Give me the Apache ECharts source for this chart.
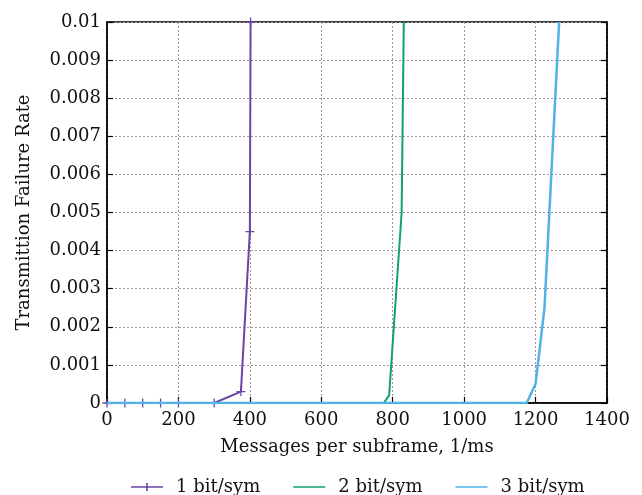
<!DOCTYPE html>
<html><head><meta charset="utf-8">
<script src="https://cdn.jsdelivr.net/npm/echarts@6/dist/echarts.min.js"></script>
<style>html,body{margin:0;padding:0;background:#fff}#c{width:642px;height:495px}</style>
</head><body><div id="c"></div>
<script>
const seriesNames = ['1 bit/sym', '2 bit/sym', '3 bit/sym'];
const x1 = [0, 50, 100, 150, 200, 300, 375, 400, 402];
const y1 = [0, 0, 0, 0, 0, 0, 0.0003, 0.0045, 0.01];
const x2 = [0, 775, 790, 825, 831];
const y2 = [0, 0, 0.0002, 0.005, 0.01];
const x3 = [0, 1175, 1200, 1225, 1266];
const y3 = [0, 0, 0.0005, 0.0025, 0.01];
const colors = ['#6a44a6', '#10a078', '#4fb3e6'];
const FONT = 'DejaVu Serif';
const FS = 18;
const TXT = '#111';

const pair = (xs, ys) => xs.map((x, i) => [x, ys[i]]);
const plus = 'path://M4.3,0H5.7V10H4.3Z M0,4.3H10V5.7H0Z';
const lineIcon = 'path://M0,4.2H32V5.8H0Z';
const plusLineIcon = 'path://M0,4.2H32V5.8H0Z M15.2,1H16.8V9H15.2Z';

const chart = echarts.init(document.getElementById('c'));
const tickStyle = {lineStyle: {color: '#000', width: 1.2}};
chart.setOption({
  animation: false,
  textStyle: {fontFamily: FONT},
  grid: {left: 107, top: 22, right: 35, bottom: 92, show: true, borderColor: '#000', borderWidth: 1.5},
  legend: {
    top: 473, left: 126, itemWidth: 32, itemHeight: 10, itemGap: 33,
    textStyle: {fontFamily: FONT, fontSize: FS, color: TXT, padding: [0, 0, 0, 8]},
    data: [
      {name: seriesNames[0], icon: plusLineIcon},
      {name: seriesNames[1], icon: lineIcon},
      {name: seriesNames[2], icon: lineIcon}
    ]
  },
  xAxis: [{
    type: 'value', min: 0, max: 1400, interval: 200,
    name: 'Messages per subframe, 1/ms', nameLocation: 'middle', nameGap: 35,
    nameTextStyle: {fontFamily: FONT, fontSize: FS, color: TXT},
    axisLine: {show: true, onZero: false, lineStyle: {color: '#000', width: 1.5}},
    axisTick: Object.assign({show: true, inside: true, length: 6}, tickStyle),
    axisLabel: {fontFamily: FONT, fontSize: FS, color: TXT, margin: 8, formatter: v => String(v)},
    splitLine: {show: true, lineStyle: {color: '#999', type: [2, 2], width: 1}}
  }],
  yAxis: [{
    type: 'value', min: 0, max: 0.01, interval: 0.001,
    name: 'Transmittion Failure Rate', nameLocation: 'middle', nameGap: 74,
    nameTextStyle: {fontFamily: FONT, fontSize: FS, color: TXT},
    axisLine: {show: true, lineStyle: {color: '#000', width: 1.5}},
    axisTick: Object.assign({show: true, inside: true, length: 6}, tickStyle),
    axisLabel: {fontFamily: FONT, fontSize: FS, color: TXT, margin: 6,
      formatter: v => v === 0 ? '0' : String(+v.toFixed(3))},
    splitLine: {show: true, lineStyle: {color: '#999', type: [2, 2], width: 1}}
  }, {
    type: 'value', min: 0, max: 0.01, interval: 0.001, position: 'right',
    axisLine: {show: true, lineStyle: {color: '#000', width: 1.5}},
    axisTick: Object.assign({show: true, inside: true, length: 6}, tickStyle),
    axisLabel: {show: false}, splitLine: {show: false}
  }],
  series: [
    {name: seriesNames[0], type: 'line', data: pair(x1, y1), color: colors[0],
     symbol: plus, symbolSize: 9, showSymbol: true, lineStyle: {width: 2}, z: 3},
    {name: seriesNames[1], type: 'line', data: pair(x2, y2), color: colors[1],
     symbol: 'none', lineStyle: {width: 2}, z: 4},
    {name: seriesNames[2], type: 'line', data: pair(x3, y3), color: colors[2],
     symbol: 'none', lineStyle: {width: 2.5}, z: 5}
  ]
});
</script></body></html>
